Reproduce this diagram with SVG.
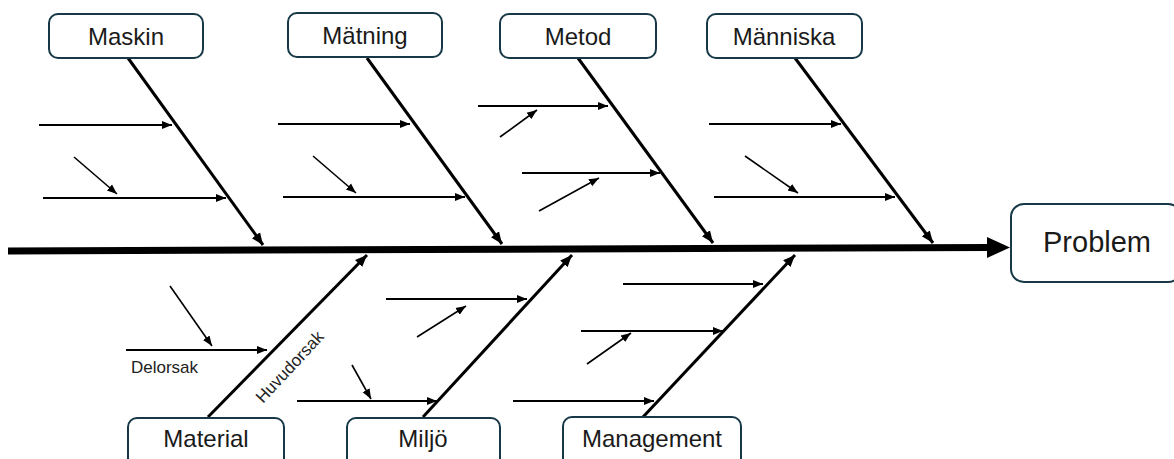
<svg xmlns="http://www.w3.org/2000/svg" width="1174" height="459" viewBox="0 0 1174 459">
<style>
.box{fill:#fff;stroke:#163847;stroke-width:2}
.lbl{font-family:"Liberation Sans",Arial,sans-serif;font-size:24px;fill:#1a1a1a;text-anchor:middle}
.bone{stroke:#000;stroke-width:3;fill:none;marker-end:url(#ab)}
.sub{stroke:#000;stroke-width:2;fill:none;marker-end:url(#as)}
.twig{stroke:#000;stroke-width:1.6;fill:none;marker-end:url(#as)}
.small{font-family:"Liberation Sans",Arial,sans-serif;font-size:17px;fill:#222}
</style>
<defs>
<marker id="ab" markerUnits="userSpaceOnUse" markerWidth="14" markerHeight="12" refX="12" refY="6" orient="auto" viewBox="0 0 14 12"><path d="M0,1 L12,6 L0,11 Z" fill="#000"/></marker>
<marker id="as" markerUnits="userSpaceOnUse" markerWidth="12" markerHeight="10" refX="10" refY="5" orient="auto" viewBox="0 0 12 10"><path d="M0,1 L10,5 L0,9 Z" fill="#000"/></marker>
</defs>
<rect width="1174" height="459" fill="#fff"/>
<g id="connectors">
<line x1="8" y1="251" x2="990" y2="247.5" stroke="#000" stroke-width="7"/>
<polygon points="987,237 1010,247.5 987,258" fill="#000"/>
<line class="bone" x1="128" y1="58" x2="263" y2="245"/>
<line class="bone" x1="367" y1="58" x2="502" y2="244"/>
<line class="bone" x1="578" y1="58" x2="713" y2="243"/>
<line class="bone" x1="795" y1="58" x2="933" y2="243"/>
<line class="bone" x1="208" y1="417" x2="367" y2="255"/>
<line class="bone" x1="423" y1="417" x2="572" y2="255"/>
<line class="bone" x1="643" y1="417" x2="795" y2="255"/>
<line class="sub" x1="39" y1="125" x2="172" y2="125"/>
<line class="sub" x1="43" y1="198" x2="226" y2="198"/>
<line class="twig" x1="74" y1="157" x2="117" y2="194"/>
<line class="sub" x1="278" y1="124" x2="410" y2="124"/>
<line class="sub" x1="283" y1="197" x2="465" y2="197"/>
<line class="twig" x1="313" y1="156" x2="356" y2="193"/>
<line class="sub" x1="478" y1="106" x2="608" y2="106"/>
<line class="twig" x1="500" y1="137" x2="537" y2="110"/>
<line class="sub" x1="522" y1="173" x2="660" y2="173"/>
<line class="twig" x1="539" y1="211" x2="599" y2="178"/>
<line class="sub" x1="709" y1="124" x2="841" y2="124"/>
<line class="sub" x1="714" y1="197" x2="895" y2="197"/>
<line class="twig" x1="745" y1="156" x2="798" y2="193"/>
<line class="twig" x1="170" y1="286" x2="212" y2="346"/>
<line class="sub" x1="126" y1="350" x2="267" y2="350"/>
<line class="sub" x1="386" y1="299" x2="527" y2="299"/>
<line class="twig" x1="417" y1="337" x2="466" y2="306"/>
<line class="sub" x1="297" y1="401" x2="437" y2="401"/>
<line class="twig" x1="352" y1="365" x2="371" y2="399"/>
<line class="sub" x1="623" y1="284" x2="763" y2="284"/>
<line class="sub" x1="581" y1="331" x2="723" y2="331"/>
<line class="twig" x1="587" y1="364" x2="631" y2="333"/>
<line class="sub" x1="513" y1="401" x2="654" y2="401"/>
<text class="small" x="131" y="373">Delorsak</text>
<text class="small" transform="translate(263,404) rotate(-47)">Huvudorsak</text>
</g>
<g id="maskin"><rect class="box" x="49" y="14" width="154" height="44" rx="9"/><text class="lbl" x="126" y="45">Maskin</text></g>
<g id="matning"><rect class="box" x="288" y="13" width="154" height="44" rx="9"/><text class="lbl" x="365" y="44">Mätning</text></g>
<g id="metod"><rect class="box" x="500" y="14" width="156" height="44" rx="9"/><text class="lbl" x="578" y="45">Metod</text></g>
<g id="manniska"><rect class="box" x="707" y="14" width="155" height="44" rx="9"/><text class="lbl" x="784" y="45">Människa</text></g>
<g id="problem"><rect class="box" x="1011" y="204" width="170" height="78" rx="13"/><text class="lbl" x="1097" y="252" style="font-size:29px">Problem</text></g>
<g id="material"><rect class="box" x="128" y="418" width="156" height="50" rx="9"/><text class="lbl" x="206" y="447">Material</text></g>
<g id="miljo"><rect class="box" x="347" y="418" width="153" height="50" rx="9"/><text class="lbl" x="423" y="447">Miljö</text></g>
<g id="management"><rect class="box" x="563" y="417" width="178" height="50" rx="9"/><text class="lbl" x="652" y="447">Management</text></g>
</svg>
